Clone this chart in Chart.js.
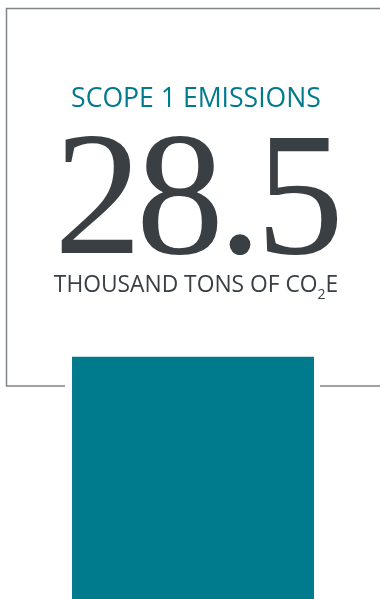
<!DOCTYPE html>
<html>
<head>
<meta charset="utf-8">
<script src="https://cdn.jsdelivr.net/npm/chart.js@4"></script>
<style>
  html, body { margin: 0; padding: 0; background: #ffffff; }
  #wrap { width: 380px; height: 599px; }
</style>
</head>
<body>
<div id="wrap"><canvas id="emissionsChart" width="380" height="599"></canvas></div>
<script>
// Scope 1 emissions, thousand tons of CO2e
const categories = ['Scope 1'];
const emissions = [28.5];
const titleText = 'SCOPE 1 EMISSIONS';
const unitText = 'THOUSAND TONS OF CO';
const unitSub = '2';
const unitTail = 'E';

const teal = '#007b8e';
const darkGray = '#3a3f44';
const frameGray = '#808589';

// Frame around the headline plus the title, big number and unit text
const calloutPlugin = {
    id: 'callout',
    beforeDatasetsDraw(chart) {
        const ctx = chart.ctx;
        const bar = chart.getDatasetMeta(0).data[0];
        const left = bar.x - bar.width / 2;
        const right = bar.x + bar.width / 2;
        const frameBottom = 386;

        ctx.save();
        ctx.strokeStyle = frameGray;
        ctx.lineWidth = 1.5;
        ctx.beginPath();
        ctx.moveTo(380, 8.5);
        ctx.lineTo(6.5, 8.5);
        ctx.lineTo(6.5, frameBottom);
        ctx.lineTo(left - 7, frameBottom);
        ctx.moveTo(right + 6, frameBottom);
        ctx.lineTo(380, frameBottom);
        ctx.stroke();
        ctx.restore();
    },
    afterDraw(chart) {
        const ctx = chart.ctx;
        const cx = 196;
        ctx.save();
        ctx.textBaseline = 'alphabetic';
        ctx.textAlign = 'center';

        // title
        ctx.fillStyle = teal;
        ctx.font = '26.6px "Open Sans"';
        ctx.fillText(titleText, cx, 107);

        // big value
        ctx.fillStyle = darkGray;
        ctx.font = '176px "Liberation Serif"';
        ctx.letterSpacing = '-6px';
        ctx.fillText(emissions[0].toFixed(1), cx, 253);
        ctx.letterSpacing = '0px';

        // unit with subscript 2
        const big = '22.8px "Open Sans"';
        const small = '14px "Open Sans"';
        ctx.textAlign = 'left';
        ctx.font = big;
        const w1 = ctx.measureText(unitText).width;
        const w3 = ctx.measureText(unitTail).width;
        ctx.font = small;
        const w2 = ctx.measureText(unitSub).width;
        let x = 196 - (w1 + w2 + w3) / 2;
        ctx.font = big;
        ctx.fillText(unitText, x, 292);
        x += w1;
        ctx.font = small;
        ctx.fillText(unitSub, x, 299);
        x += w2;
        ctx.font = big;
        ctx.fillText(unitTail, x, 292);
        ctx.restore();
    }
};

new Chart(document.getElementById('emissionsChart').getContext('2d'), {
    type: 'bar',
    data: {
        labels: categories,
        datasets: [{
            data: emissions,
            backgroundColor: teal,
            borderWidth: 0,
            barPercentage: 0.647,
            categoryPercentage: 1.0
        }]
    },
    options: {
        responsive: false,
        animation: false,
        layout: { padding: { left: 6, right: 0, top: 0, bottom: 0 } },
        scales: {
            x: { display: false },
            y: { display: false, min: 0, max: 70.5 }
        },
        plugins: {
            legend: { display: false },
            tooltip: { enabled: false }
        }
    },
    plugins: [calloutPlugin]
});
</script>
</body>
</html>
